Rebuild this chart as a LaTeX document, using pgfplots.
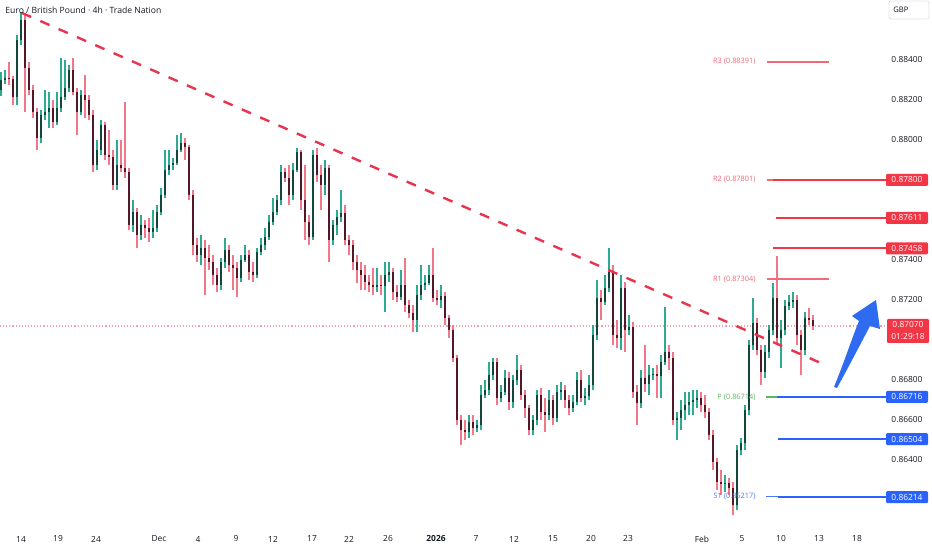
\documentclass[border=0pt]{standalone}
\usepackage{pgfplots}
\pgfplotsset{compat=1.18}
\usepackage{pgfplotstable}
\usepackage{fontspec}
\setmainfont{Open Sans}
\definecolor{upwick}{HTML}{2FAA92}
\definecolor{dnwick}{HTML}{F0788A}
\definecolor{upbody}{HTML}{12463A}
\definecolor{dnbody}{HTML}{521827}
\definecolor{lvred}{HTML}{F23645}
\definecolor{lvredlt}{HTML}{F06A78}
\definecolor{dotred}{HTML}{F4A3AC}
\definecolor{lvgreen}{HTML}{5DB862}
\definecolor{lvblue}{HTML}{2962FF}
\definecolor{lvbluelt}{HTML}{4C7BF5}
\definecolor{trend}{HTML}{E8344C}
\definecolor{txt}{HTML}{131722}
\definecolor{gbpborder}{HTML}{E0E3EB}
\definecolor{arrowblue}{HTML}{2F6BF0}
\newcommand\axfont{\fontsize{4.2}{5}\selectfont}
\newcommand\lvlfont{\fontsize{3.7}{4.5}\selectfont}
\pgfplotstableread{
x o h l c
1 0.88250 0.88340 0.88220 0.88300
5 0.88300 0.88350 0.88280 0.88310
9 0.88310 0.88390 0.88275 0.88305
13 0.88305 0.88320 0.88175 0.88215
17 0.88215 0.88525 0.88175 0.88500
21 0.88500 0.88640 0.88475 0.88600
25 0.88600 0.88625 0.88140 0.88360
29 0.88360 0.88390 0.88225 0.88250
33 0.88250 0.88275 0.88110 0.88140
37 0.88140 0.88160 0.87950 0.88010
41 0.88010 0.88150 0.87985 0.88125
45 0.88125 0.88250 0.88100 0.88140
49 0.88140 0.88240 0.88060 0.88160
53 0.88160 0.88200 0.88060 0.88090
57 0.88090 0.88240 0.88075 0.88160
61 0.88160 0.88410 0.88140 0.88215
65 0.88215 0.88400 0.88200 0.88260
69 0.88260 0.88375 0.88240 0.88350
73 0.88350 0.88410 0.88225 0.88240
77 0.88240 0.88260 0.88025 0.88140
81 0.88140 0.88250 0.88125 0.88225
85 0.88225 0.88325 0.88110 0.88200
89 0.88200 0.88225 0.88100 0.88125
93 0.88125 0.88150 0.87840 0.87875
97 0.87875 0.88000 0.87850 0.87950
101 0.87950 0.88100 0.87925 0.88075
105 0.88075 0.88090 0.87900 0.87925
109 0.87925 0.88050 0.87875 0.87915
113 0.87915 0.87950 0.87750 0.87775
117 0.87775 0.88000 0.87750 0.87875
121 0.87875 0.88000 0.87840 0.87860
125 0.87860 0.88190 0.87810 0.87840
129 0.87840 0.87860 0.87550 0.87575
133 0.87575 0.87700 0.87540 0.87640
137 0.87640 0.87660 0.87460 0.87525
141 0.87525 0.87625 0.87500 0.87575
145 0.87575 0.87600 0.87510 0.87560
149 0.87560 0.87610 0.87490 0.87540
153 0.87540 0.87650 0.87510 0.87560
157 0.87560 0.87675 0.87540 0.87640
161 0.87640 0.87760 0.87625 0.87725
165 0.87725 0.87950 0.87710 0.87850
169 0.87850 0.87950 0.87825 0.87875
173 0.87875 0.87910 0.87850 0.87885
177 0.87885 0.88025 0.87875 0.87950
181 0.87950 0.88035 0.87940 0.87985
185 0.87985 0.88010 0.87900 0.87965
189 0.87965 0.87975 0.87700 0.87725
193 0.87725 0.87750 0.87425 0.87475
197 0.87475 0.87510 0.87390 0.87425
201 0.87425 0.87525 0.87375 0.87460
205 0.87460 0.87500 0.87225 0.87410
209 0.87410 0.87475 0.87350 0.87390
213 0.87390 0.87425 0.87275 0.87325
217 0.87325 0.87360 0.87240 0.87275
221 0.87275 0.87410 0.87250 0.87390
225 0.87390 0.87510 0.87360 0.87450
229 0.87450 0.87475 0.87340 0.87375
233 0.87375 0.87425 0.87250 0.87360
237 0.87360 0.87390 0.87215 0.87310
241 0.87310 0.87425 0.87290 0.87400
245 0.87400 0.87475 0.87390 0.87425
249 0.87425 0.87450 0.87300 0.87340
253 0.87340 0.87390 0.87290 0.87325
257 0.87325 0.87460 0.87310 0.87440
261 0.87440 0.87510 0.87425 0.87475
265 0.87475 0.87560 0.87450 0.87515
269 0.87515 0.87625 0.87500 0.87590
273 0.87590 0.87710 0.87575 0.87640
277 0.87640 0.87725 0.87625 0.87700
281 0.87700 0.87875 0.87675 0.87840
285 0.87840 0.87860 0.87790 0.87810
289 0.87810 0.87875 0.87675 0.87725
293 0.87725 0.87885 0.87700 0.87850
297 0.87850 0.87960 0.87840 0.87940
301 0.87940 0.87950 0.87650 0.87700
305 0.87700 0.87875 0.87500 0.87590
309 0.87590 0.87625 0.87475 0.87515
313 0.87515 0.87950 0.87500 0.87925
317 0.87925 0.87960 0.87790 0.87825
321 0.87825 0.87875 0.87650 0.87775
325 0.87775 0.87900 0.87725 0.87860
329 0.87860 0.87875 0.87390 0.87500
333 0.87500 0.87600 0.87475 0.87575
337 0.87575 0.87650 0.87525 0.87615
341 0.87615 0.87750 0.87590 0.87635
345 0.87635 0.87675 0.87475 0.87500
349 0.87500 0.87525 0.87425 0.87475
353 0.87475 0.87500 0.87350 0.87390
357 0.87390 0.87425 0.87285 0.87350
361 0.87350 0.87390 0.87250 0.87325
365 0.87325 0.87375 0.87250 0.87290
369 0.87290 0.87325 0.87240 0.87275
373 0.87275 0.87360 0.87225 0.87265
377 0.87265 0.87360 0.87240 0.87275
381 0.87275 0.87325 0.87225 0.87270
385 0.87270 0.87390 0.87140 0.87325
389 0.87325 0.87390 0.87290 0.87340
393 0.87340 0.87360 0.87200 0.87240
397 0.87240 0.87275 0.87190 0.87215
401 0.87215 0.87350 0.87200 0.87275
405 0.87275 0.87410 0.87140 0.87175
409 0.87175 0.87200 0.87110 0.87135
413 0.87135 0.87175 0.87040 0.87100
417 0.87100 0.87275 0.87040 0.87225
421 0.87225 0.87375 0.87200 0.87275
425 0.87275 0.87325 0.87250 0.87285
429 0.87285 0.87375 0.87275 0.87325
433 0.87325 0.87460 0.87190 0.87210
437 0.87210 0.87250 0.87175 0.87200
441 0.87200 0.87275 0.87160 0.87220
445 0.87220 0.87240 0.87075 0.87110
449 0.87110 0.87125 0.87010 0.87050
453 0.87050 0.87075 0.86890 0.86910
457 0.86910 0.86925 0.86575 0.86600
461 0.86600 0.86625 0.86475 0.86550
465 0.86550 0.86600 0.86500 0.86540
469 0.86540 0.86625 0.86510 0.86590
473 0.86590 0.86625 0.86525 0.86560
477 0.86560 0.86600 0.86540 0.86575
481 0.86575 0.86775 0.86550 0.86725
485 0.86725 0.86800 0.86710 0.86750
489 0.86750 0.86890 0.86725 0.86825
493 0.86825 0.86910 0.86800 0.86890
497 0.86890 0.86910 0.86675 0.86710
501 0.86710 0.86775 0.86690 0.86740
505 0.86740 0.86850 0.86725 0.86810
509 0.86810 0.86840 0.86650 0.86690
513 0.86690 0.86825 0.86660 0.86800
517 0.86800 0.86925 0.86775 0.86850
521 0.86850 0.86875 0.86700 0.86725
525 0.86725 0.86750 0.86610 0.86660
529 0.86660 0.86675 0.86525 0.86550
533 0.86550 0.86625 0.86525 0.86600
537 0.86600 0.86750 0.86575 0.86725
541 0.86725 0.86760 0.86600 0.86640
545 0.86640 0.86710 0.86540 0.86625
549 0.86625 0.86750 0.86600 0.86700
553 0.86700 0.86725 0.86575 0.86610
557 0.86610 0.86775 0.86590 0.86740
561 0.86740 0.86790 0.86700 0.86750
565 0.86750 0.86775 0.86660 0.86700
569 0.86700 0.86725 0.86625 0.86660
573 0.86660 0.86725 0.86640 0.86690
577 0.86690 0.86840 0.86675 0.86800
581 0.86800 0.86850 0.86690 0.86710
585 0.86710 0.86760 0.86675 0.86720
589 0.86720 0.86825 0.86700 0.86775
593 0.86775 0.87075 0.86750 0.87025
597 0.87025 0.87300 0.87000 0.87210
601 0.87210 0.87250 0.87100 0.87190
605 0.87190 0.87325 0.87175 0.87260
609 0.87260 0.87460 0.87240 0.87340
613 0.87340 0.87375 0.86975 0.87025
617 0.87025 0.87100 0.86960 0.87010
621 0.87010 0.87325 0.86950 0.87260
625 0.87260 0.87290 0.86940 0.87050
629 0.87050 0.87125 0.87025 0.87065
633 0.87065 0.87090 0.86710 0.86740
637 0.86740 0.86775 0.86575 0.86685
641 0.86685 0.86850 0.86660 0.86810
645 0.86810 0.86975 0.86740 0.86780
649 0.86780 0.86875 0.86725 0.86825
653 0.86825 0.86860 0.86800 0.86830
657 0.86830 0.86875 0.86710 0.86820
661 0.86820 0.86925 0.86710 0.86890
665 0.86890 0.87165 0.86875 0.86940
669 0.86940 0.86975 0.86850 0.86910
673 0.86910 0.86940 0.86575 0.86600
677 0.86600 0.86640 0.86500 0.86610
681 0.86610 0.86700 0.86550 0.86650
685 0.86650 0.86740 0.86600 0.86675
689 0.86675 0.86740 0.86625 0.86690
693 0.86690 0.86750 0.86625 0.86700
697 0.86700 0.86750 0.86660 0.86710
701 0.86710 0.86740 0.86640 0.86675
705 0.86675 0.86725 0.86610 0.86640
709 0.86640 0.86660 0.86500 0.86525
713 0.86525 0.86550 0.86350 0.86390
717 0.86390 0.86410 0.86250 0.86290
721 0.86290 0.86350 0.86225 0.86280
725 0.86280 0.86325 0.86240 0.86285
729 0.86285 0.86310 0.86225 0.86260
733 0.86260 0.86290 0.86125 0.86175
737 0.86175 0.86475 0.86150 0.86450
741 0.86450 0.86510 0.86425 0.86485
745 0.86485 0.86675 0.86450 0.86650
749 0.86650 0.87000 0.86625 0.86975
753 0.86975 0.87210 0.86950 0.87085
757 0.87085 0.87110 0.86925 0.86950
761 0.86950 0.86975 0.86775 0.86840
765 0.86840 0.86975 0.86810 0.86940
769 0.86940 0.87075 0.86910 0.87050
773 0.87050 0.87285 0.87025 0.87210
777 0.87210 0.87420 0.86975 0.87010
781 0.87010 0.87100 0.86860 0.87050
785 0.87050 0.87200 0.87025 0.87170
789 0.87170 0.87225 0.87150 0.87190
793 0.87190 0.87240 0.87160 0.87200
797 0.87200 0.87225 0.86975 0.87025
801 0.87025 0.87050 0.86825 0.86950
805 0.86950 0.87140 0.86925 0.87110
809 0.87110 0.87160 0.87075 0.87100
813 0.87100 0.87125 0.87050 0.87070
}\candles
\begin{document}
\begin{tikzpicture}
\useasboundingbox (0,-10pt) rectangle (466pt,265pt);
\begin{axis}[
  at={(0,0)}, anchor=south west, scale only axis,
  width=443pt, height=265pt,
  xmin=0, xmax=886, ymin=0.8605, ymax=0.887,
  axis line style={draw=none}, major tick length=0pt, clip=false,
  xtick={21,58,96,159,198,236,273,312,349,388,436,476,514,553,591,628,702,742,781,819,857},
  xticklabels={14,19,24,Dec,4,9,12,17,22,26,\textbf{2026},7,12,15,20,23,Feb,5,10,13,18},
  ytick={0.864,0.866,0.868,0.872,0.874,0.880,0.882,0.884},
  yticklabels={0.86400,0.86600,0.86800,0.87200,0.87400,0.88000,0.88200,0.88400},
  yticklabel pos=right,
  xticklabel style={font=\axfont, text=txt, anchor=center, yshift=-4.5pt},
  yticklabel style={font=\axfont, text=txt, anchor=center, xshift=10.5pt},
  candle/.style={draw=none, mark=none, error bars/y dir=plus, error bars/y explicit, error bars/error mark=none},
  up/.style={restrict expr to domain={\thisrow{c}-\thisrow{o}}{0.000001:1}},
  dn/.style={restrict expr to domain={\thisrow{c}-\thisrow{o}}{-1:-0.000001}},
]
% current price dotted line
\addplot[dotred, line width=0.55pt, dash pattern=on 0.55pt off 1pt] coordinates {(0,0.8707) (886,0.8707)};
% wicks
\addplot[candle, up, error bars/error bar style={draw=upwick, solid, line width=0.65pt}]
  table[x=x, y=l, y error expr=\thisrow{h}-\thisrow{l}] {\candles};
\addplot[candle, dn, error bars/error bar style={draw=dnwick, solid, line width=0.65pt}]
  table[x=x, y=l, y error expr=\thisrow{h}-\thisrow{l}] {\candles};
% bodies
\addplot[candle, up, error bars/error bar style={draw=upbody, solid, line width=1.35pt}]
  table[x=x, y=o, y error expr=\thisrow{c}-\thisrow{o}] {\candles};
\addplot[candle, dn, error bars/error bar style={draw=dnbody, solid, line width=1.35pt}]
  table[x=x, y=c, y error expr=\thisrow{o}-\thisrow{c}] {\candles};
% trend line
\addplot[trend, line width=1.2pt, dash pattern=on 5pt off 5pt] coordinates {(22,0.88635) (823,0.8688)};
% pivot levels
\addplot[lvredlt, line width=0.8pt] coordinates {(767,0.88391) (829,0.88391)};
\addplot[lvredlt, line width=0.8pt] coordinates {(767,0.87801) (773,0.87801)};
\addplot[lvred, line width=1pt] coordinates {(773,0.87800) (886,0.87800)};
\addplot[lvred, line width=1pt] coordinates {(776,0.87611) (886,0.87611)};
\addplot[lvred, line width=1pt] coordinates {(773,0.87458) (886,0.87458)};
\addplot[lvredlt, line width=0.8pt] coordinates {(767,0.87304) (829,0.87304)};
\addplot[lvgreen, line width=0.8pt] coordinates {(766,0.86714) (777,0.86714)};
\addplot[lvblue, line width=1pt] coordinates {(777,0.86716) (886,0.86716)};
\addplot[lvblue, line width=1pt] coordinates {(778,0.86504) (886,0.86504)};
\addplot[lvbluelt, line width=0.8pt] coordinates {(766,0.86217) (778,0.86217)};
\addplot[lvblue, line width=1pt] coordinates {(778,0.86214) (886,0.86214)};
% level labels
\node[anchor=east, text=lvredlt, font=\lvlfont, inner sep=0pt] at (axis cs:756,0.88391) {R3 (0.88391)};
\node[anchor=east, text=lvredlt, font=\lvlfont, inner sep=0pt] at (axis cs:756,0.87801) {R2 (0.87801)};
\node[anchor=east, text=lvredlt, font=\lvlfont, inner sep=0pt] at (axis cs:756,0.87304) {R1 (0.87304)};
\node[anchor=east, text=lvgreen, font=\lvlfont, inner sep=0pt] at (axis cs:756,0.86714) {P (0.86714)};
\node[anchor=east, text=lvbluelt, font=\lvlfont, inner sep=0pt] at (axis cs:756,0.86217) {S1 (0.86217)};
% price boxes
\tikzset{pbox/.style={text=white, font=\axfont, inner sep=0pt, minimum width=21pt, minimum height=6pt, rounded corners=0.6pt}}
\node[pbox, fill=lvred] at (axis cs:907,0.87800) {0.87800};
\node[pbox, fill=lvred] at (axis cs:907,0.87611) {0.87611};
\node[pbox, fill=lvred] at (axis cs:907,0.87458) {0.87458};
\node[pbox, fill=lvblue] at (axis cs:907,0.86716) {0.86716};
\node[pbox, fill=lvblue] at (axis cs:907,0.86504) {0.86504};
\node[pbox, fill=lvblue] at (axis cs:907,0.86214) {0.86214};
\node[pbox, fill=lvred, minimum height=12pt, align=center, font=\fontsize{4.2}{6}\selectfont] at (axis cs:908,0.87045) {0.87070\\01:29:18};
% GBP box
\draw[gbpborder, fill=white, rounded corners=1pt, line width=0.4pt] (axis cs:889,0.88695) rectangle (axis cs:929,0.88605);
\node[anchor=west, text=txt, font=\fontsize{3.8}{4.5}\selectfont, inner sep=0pt] at (axis cs:893,0.88650) {GBP};
% title
\node[anchor=west, text=txt, font=\fontsize{4.3}{5}\selectfont, inner sep=0pt] at (axis cs:5,0.88650) {Euro / British Pound · 4h · Trade Nation};
% blue arrow
\fill[arrowblue] (axis cs:834,0.86765) .. controls (axis cs:845,0.8690) and (axis cs:852,0.8701) .. (axis cs:859,0.87095)
  -- (axis cs:852,0.8712) -- (axis cs:876,0.8720) -- (axis cs:880,0.87055) -- (axis cs:870,0.8707)
  .. controls (axis cs:860,0.86975) and (axis cs:848,0.8686) .. (axis cs:837,0.8676) -- cycle;
\end{axis}
\end{tikzpicture}
\end{document}
